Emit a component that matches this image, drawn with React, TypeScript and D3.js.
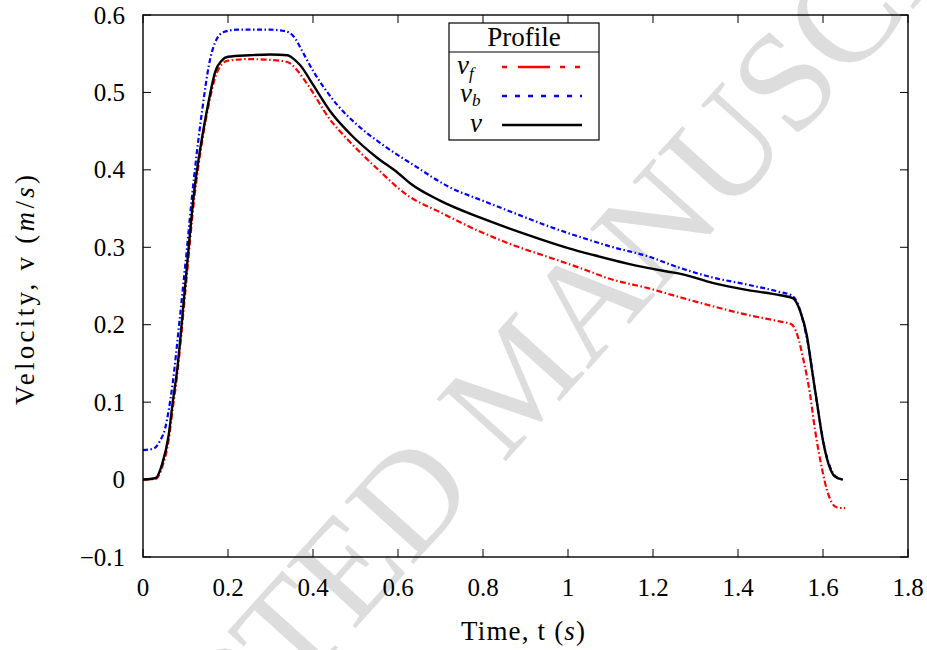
import React from "react";
import * as d3 from "d3";

const tV = [0, 0.03, 0.045, 0.06, 0.07, 0.08, 0.1, 0.12, 0.14, 0.155, 0.17, 0.185, 0.2, 0.25, 0.3, 0.34, 0.355, 0.37, 0.4, 0.44, 0.49, 0.55, 0.6, 0.63, 0.7, 0.8, 0.9, 1.0, 1.06, 1.14, 1.23, 1.27, 1.34, 1.42, 1.5, 1.53, 1.546, 1.562, 1.574, 1.586, 1.598, 1.612, 1.628, 1.647];
const vV = [0, 0.002, 0.02, 0.056, 0.1, 0.14, 0.255, 0.37, 0.445, 0.49, 0.527, 0.541, 0.546, 0.548, 0.549, 0.548, 0.543, 0.535, 0.51, 0.476, 0.445, 0.416, 0.396, 0.382, 0.36, 0.337, 0.317, 0.299, 0.29, 0.279, 0.269, 0.265, 0.254, 0.245, 0.238, 0.234, 0.218, 0.186, 0.142, 0.099, 0.056, 0.022, 0.004, 0];

const tB = [0, 0.025, 0.04, 0.052, 0.06, 0.07, 0.085, 0.1, 0.12, 0.14, 0.155, 0.17, 0.19, 0.22, 0.3, 0.335, 0.355, 0.375, 0.4, 0.43, 0.46, 0.5, 0.56, 0.64, 0.72, 0.8, 0.87, 0.95, 1.03, 1.1, 1.19, 1.26, 1.34, 1.42, 1.5, 1.525, 1.54, 1.555, 1.568, 1.58, 1.592, 1.605, 1.62, 1.635, 1.65];
const vB = [0.038, 0.04, 0.05, 0.066, 0.088, 0.125, 0.2, 0.28, 0.39, 0.48, 0.535, 0.565, 0.578, 0.581, 0.581, 0.579, 0.572, 0.553, 0.528, 0.503, 0.482, 0.46, 0.434, 0.405, 0.378, 0.36, 0.345, 0.328, 0.313, 0.301, 0.288, 0.274, 0.261, 0.252, 0.242, 0.238, 0.228, 0.2, 0.165, 0.12, 0.077, 0.038, 0.012, 0.002, 0];

const tF = [0, 0.03, 0.045, 0.06, 0.07, 0.08, 0.1, 0.12, 0.14, 0.155, 0.17, 0.185, 0.2, 0.25, 0.3, 0.335, 0.35, 0.365, 0.39, 0.44, 0.48, 0.55, 0.62, 0.7, 0.79, 0.87, 0.95, 1.03, 1.1, 1.19, 1.26, 1.34, 1.42, 1.5, 1.525, 1.54, 1.553, 1.569, 1.581, 1.598, 1.609, 1.621, 1.633, 1.652];
const vF = [0, 0.001, 0.016, 0.05, 0.092, 0.133, 0.245, 0.36, 0.44, 0.485, 0.52, 0.536, 0.541, 0.543, 0.542, 0.54, 0.536, 0.527, 0.508, 0.465, 0.44, 0.402, 0.368, 0.345, 0.321, 0.303, 0.288, 0.273, 0.259, 0.247, 0.236, 0.224, 0.213, 0.204, 0.201, 0.186, 0.157, 0.112, 0.065, 0.013, -0.013, -0.03, -0.036, -0.037];

const xTicks = [0, 0.2, 0.4, 0.6, 0.8, 1, 1.2, 1.4, 1.6, 1.8];
const yTicks = [-0.1, 0, 0.1, 0.2, 0.3, 0.4, 0.5, 0.6];

const W = 927, H = 650;
const L = 143, R = 908, T = 15, B = 557;
const FONT = "Liberation Serif, serif";

export default function App() {
  const x = d3.scaleLinear().domain([0, 1.8]).range([L, R]);
  const y = d3.scaleLinear().domain([-0.1, 0.6]).range([B, T]);
  const line = d3.line<[number, number]>().x(d => x(d[0])).y(d => y(d[1])).curve(d3.curveMonotoneX);
  const zip = (a: number[], b: number[]) => a.map((t, i) => [t, b[i]] as [number, number]);
  const fmt = (v: number) => (v < 0 ? "\u2212" + String(Math.abs(v)) : String(v));
  const tk = 8;
  const lx0 = 502, lx1 = 582;
  return (
    <svg width={W} height={H} style={{ position: "absolute", left: 0, top: 0, background: "#fff" }}>
      <text x={552} y={410} transform="rotate(-48 552 410)" textAnchor="middle"
        fontFamily={FONT} fontSize={142} fill="#dddddd">ACCEPTED MANUSCRIPT</text>
      <g fill="none" strokeLinejoin="round">
        <path d={line(zip(tF, vF)) || ""} stroke="#ff0000" strokeWidth={2.2} strokeDasharray="6,2.5,1.5,2.5" />
        <path d={line(zip(tB, vB)) || ""} stroke="#0000ff" strokeWidth={2.2} strokeDasharray="5,2.5,1.5,2.5" />
        <path d={line(zip(tV, vV)) || ""} stroke="#000" strokeWidth={2.4} />
      </g>
      <rect x={L} y={T} width={R - L} height={B - T} fill="none" stroke="#000" strokeWidth={1.4} />
      {xTicks.map(t => (
        <g key={"x" + t}>
          <line x1={x(t)} x2={x(t)} y1={B} y2={B - tk} stroke="#000" strokeWidth={1} />
          <line x1={x(t)} x2={x(t)} y1={T} y2={T + tk} stroke="#000" strokeWidth={1} />
          <text x={x(t)} y={596} textAnchor="middle" fontFamily={FONT} fontSize={25}>{fmt(t)}</text>
        </g>
      ))}
      {yTicks.map(v => (
        <g key={"y" + v}>
          <line x1={L} x2={L + tk} y1={y(v)} y2={y(v)} stroke="#000" strokeWidth={1} />
          <line x1={R} x2={R - tk} y1={y(v)} y2={y(v)} stroke="#000" strokeWidth={1} />
          <text x={125} y={y(v)} dy="0.34em" textAnchor="end" fontFamily={FONT} fontSize={25}>{fmt(v)}</text>
        </g>
      ))}
      <text x={461} y={640} textLength={124} lengthAdjust="spacing" fontFamily={FONT} fontSize={27}>
        Time, t (<tspan fontStyle="italic">s</tspan>)
      </text>
      <text transform={`translate(34 405) rotate(-90)`} textLength={230} lengthAdjust="spacing" fontFamily={FONT} fontSize={27}>
        Velocity, v (<tspan fontStyle="italic">m</tspan>/<tspan fontStyle="italic">s</tspan>)
      </text>
      <g>
        <rect x={449} y={23} width={150} height={117} fill="#fff" stroke="#000" strokeWidth={1.2} />
        <line x1={449} x2={599} y1={52} y2={52} stroke="#000" strokeWidth={1.2} />
        <text x={524} y={46} textAnchor="middle" fontFamily={FONT} fontSize={27}>Profile</text>
        <text x={457} y={74} fontFamily={FONT} fontSize={27} fontStyle="italic">v<tspan fontSize={17} dy={5}>f</tspan></text>
        <line x1={lx0} x2={lx1} y1={67} y2={67} stroke="#ff0000" strokeWidth={2.4} strokeDasharray="5,11,32,10,5,10,5" />
        <text x={460} y={102} fontFamily={FONT} fontSize={27} fontStyle="italic">v<tspan fontSize={17} dy={4}>b</tspan></text>
        <line x1={lx0} x2={lx1} y1={96} y2={96} stroke="#0000ff" strokeWidth={2.4} strokeDasharray="5,8" />
        <text x={470} y={132} fontFamily={FONT} fontSize={27} fontStyle="italic">v</text>
        <line x1={lx0} x2={lx1} y1={125} y2={125} stroke="#000" strokeWidth={2.4} />
      </g>
    </svg>
  );
}
